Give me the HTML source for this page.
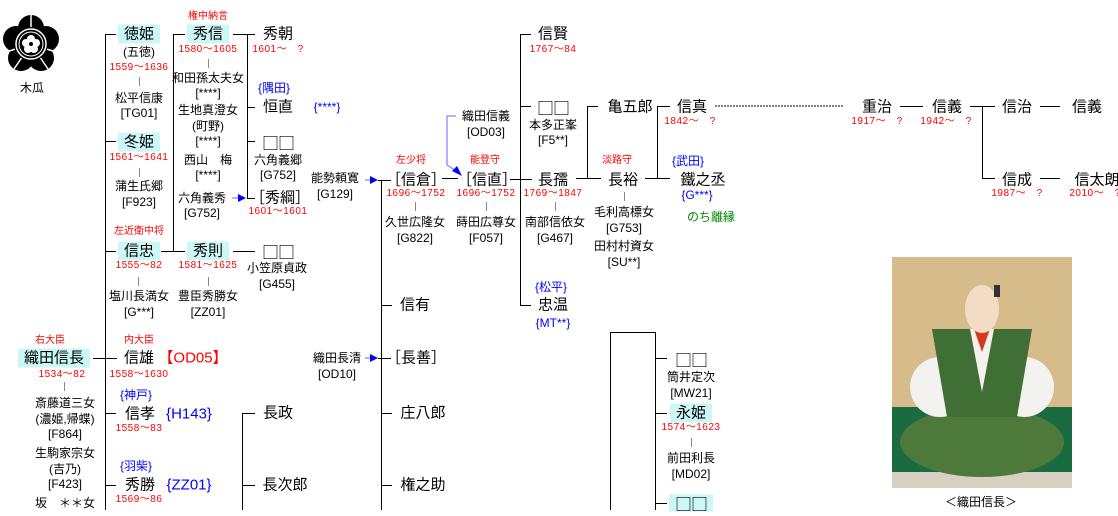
<!DOCTYPE html>
<html><head><meta charset="utf-8">
<style>
body{margin:0;width:1118px;height:510px;background:#fff;overflow:hidden;position:relative;font-family:"Liberation Sans","Noto Sans CJK JP",sans-serif;color:#000}
.t{position:absolute;transform:translate(-50%,-50%);white-space:nowrap;line-height:1}
.n{font-size:15px}
.s{font-size:12px}
.d{font-size:10px;color:#f00;letter-spacing:0.5px}
.r{font-size:10px;color:#f00}
.b{color:#00f}
.g{color:#080;font-size:12px}
.hl{background:#ccf7f7;padding:2px 6px}
.h{position:absolute;height:1px;background:#000}
.v{position:absolute;width:1px;background:#000}
.tk{position:absolute;width:1px;height:9px;background:#888}
.q{font-family:"Noto Sans CJK JP",sans-serif;font-size:17px;letter-spacing:-1px}
</style></head><body>
<svg style="position:absolute;left:0;top:0" width="1118" height="510">
 <g transform="translate(31,44)">
  <g fill="#000">
   <circle cx="0" cy="-16" r="13"/><circle cx="15" cy="-5" r="13"/><circle cx="10" cy="14" r="13"/><circle cx="-10" cy="14" r="13"/><circle cx="-15" cy="-5" r="13"/><circle r="18"/>
  </g>
  <g stroke="#fff" stroke-width="1.5">
   <line x1="0" y1="0" x2="0" y2="-30"/><line x1="0" y1="0" x2="28" y2="9"/><line x1="0" y1="0" x2="17" y2="25"/><line x1="0" y1="0" x2="-17" y2="25"/><line x1="0" y1="0" x2="-28" y2="9"/>
  </g>
  <circle r="17" fill="#000"/>
  <circle r="15" fill="none" stroke="#fff" stroke-width="1.5"/>
  <circle r="12" fill="none" stroke="#fff" stroke-width="1"/>
  <g fill="#fff"><circle cx="0" cy="-5" r="4"/><circle cx="5" cy="-1" r="4"/><circle cx="3" cy="5" r="4"/><circle cx="-3" cy="5" r="4"/><circle cx="-5" cy="-1" r="4"/></g>
  <circle r="2" fill="#000"/>
 </g>
 <path d="M456 116 H447 V165 L458 172" stroke="#66f" fill="none"/>
 <polygon points="462,176 452,171 457,166" fill="#00f"/>
 <line x1="232" y1="198" x2="240" y2="198" stroke="#66f"/><polygon points="246,198 238,194 238,202" fill="#00f"/>
 <line x1="365" y1="180" x2="372" y2="180" stroke="#66f"/><polygon points="378,180 370,176 370,184" fill="#00f"/>
 <line x1="365" y1="358" x2="372" y2="358" stroke="#66f"/><polygon points="378,358 370,354 370,362" fill="#00f"/>
 <line x1="715" y1="106" x2="843" y2="106" stroke="#000" stroke-dasharray="2,1"/>
 <g transform="translate(892,257)">
  <rect width="180" height="231" fill="#d6bc8a"/>
  <rect y="150" width="180" height="65" fill="#1b6b40"/>
  <rect y="215" width="180" height="16" fill="#d8d0c0"/>
  <ellipse cx="90" cy="185" rx="82" ry="35" fill="#4d7a3a"/>
  <ellipse cx="48" cy="130" rx="30" ry="30" fill="#f4f2ee"/>
  <ellipse cx="132" cy="130" rx="30" ry="30" fill="#f4f2ee"/>
  <polygon points="40,72 140,72 125,160 55,160" fill="#406f36"/>
  <polygon points="78,72 102,72 90,135" fill="#f4f2ee"/>
  <polygon points="82,72 98,72 90,95" fill="#d53a1f"/>
  <ellipse cx="90" cy="52" rx="17" ry="24" fill="#f3dcc4"/>
  <rect x="102" y="28" width="6" height="12" fill="#333"/>
 </g>
</svg>
<div class="t s" style="left:32px;top:88px">木瓜</div>

<div class="v" style="left:105px;top:34px;height:476px"></div>
<div class="h" style="left:105px;top:34px;width:11px"></div>
<div class="h" style="left:105px;top:141px;width:11px"></div>
<div class="h" style="left:105px;top:251px;width:11px"></div>
<div class="h" style="left:93px;top:358px;width:24px"></div>
<div class="h" style="left:105px;top:413px;width:11px"></div>
<div class="h" style="left:105px;top:485px;width:11px"></div>

<div class="t r" style="left:50px;top:341px">右大臣</div>
<div class="t n hl" style="left:54px;top:358px">織田信長</div>
<div class="t d" style="left:62px;top:375px">1534～82</div>
<div class="tk" style="left:64px;top:382px"></div>
<div class="t s" style="left:65px;top:403px">斎藤道三女</div>
<div class="t s" style="left:65px;top:419px">(濃姫,帰蝶)</div>
<div class="t s" style="left:65px;top:434px">[F864]</div>
<div class="t s" style="left:65px;top:453px">生駒家宗女</div>
<div class="t s" style="left:65px;top:469px">(吉乃)</div>
<div class="t s" style="left:65px;top:484px">[F423]</div>
<div class="t s" style="left:65px;top:503px">坂　＊＊女</div>

<div class="t n hl" style="left:139px;top:34px">徳姫</div>
<div class="t s" style="left:139px;top:52px">(五徳)</div>
<div class="t d" style="left:139px;top:68px">1559～1636</div>
<div class="tk" style="left:139px;top:77px"></div>
<div class="t s" style="left:139px;top:98px">松平信康</div>
<div class="t s" style="left:139px;top:113px">[TG01]</div>
<div class="t n hl" style="left:139px;top:142px">冬姫</div>
<div class="t d" style="left:139px;top:158px">1561～1641</div>
<div class="tk" style="left:139px;top:168px"></div>
<div class="t s" style="left:139px;top:186px">蒲生氏郷</div>
<div class="t s" style="left:139px;top:202px">[F923]</div>
<div class="t r" style="left:139px;top:232px">左近衛中将</div>
<div class="t n hl" style="left:139px;top:251px">信忠</div>
<div class="t d" style="left:139px;top:266px">1555～82</div>
<div class="tk" style="left:138px;top:277px"></div>
<div class="t s" style="left:139px;top:296px">塩川長満女</div>
<div class="t s" style="left:139px;top:312px">[G***]</div>
<div class="t r" style="left:139px;top:341px">内大臣</div>
<div class="t n" style="left:139px;top:358px">信雄</div>
<div class="t n" style="left:193px;top:358px;color:#f00">【OD05】</div>
<div class="t d" style="left:139px;top:375px">1558～1630</div>
<div class="t s b" style="left:136px;top:395px">{神戸}</div>
<div class="t n" style="left:140px;top:414px">信孝</div>
<div class="t n b" style="left:189px;top:414px">{H143}</div>
<div class="t d" style="left:139px;top:429px">1558～83</div>
<div class="t s b" style="left:136px;top:466px">{羽柴}</div>
<div class="t n" style="left:140px;top:485px">秀勝</div>
<div class="t n b" style="left:189px;top:485px">{ZZ01}</div>
<div class="t d" style="left:139px;top:500px">1569～86</div>

<div class="v" style="left:173px;top:34px;height:217px"></div>
<div class="h" style="left:173px;top:34px;width:12px"></div>
<div class="h" style="left:161px;top:251px;width:24px"></div>
<div class="t r" style="left:208px;top:17px">権中納言</div>
<div class="t n hl" style="left:208px;top:34px">秀信</div>
<div class="t d" style="left:208px;top:50px">1580～1605</div>
<div class="tk" style="left:208px;top:59px"></div>
<div class="t s" style="left:208px;top:78px">和田孫太夫女</div>
<div class="t s" style="left:208px;top:93px">[****]</div>
<div class="t s" style="left:208px;top:110px">生地真澄女</div>
<div class="t s" style="left:208px;top:126px">(町野)</div>
<div class="t s" style="left:208px;top:141px">[****]</div>
<div class="t s" style="left:208px;top:160px">西山　梅</div>
<div class="t s" style="left:208px;top:175px">[****]</div>
<div class="t s" style="left:202px;top:198px">六角義秀</div>
<div class="t s" style="left:202px;top:213px">[G752]</div>
<div class="t n hl" style="left:208px;top:251px">秀則</div>
<div class="t d" style="left:208px;top:266px">1581～1625</div>
<div class="tk" style="left:208px;top:277px"></div>
<div class="t s" style="left:208px;top:296px">豊臣秀勝女</div>
<div class="t s" style="left:208px;top:312px">[ZZ01]</div>

<div class="v" style="left:247px;top:34px;height:164px"></div>
<div class="h" style="left:233px;top:34px;width:22px"></div>
<div class="h" style="left:247px;top:107px;width:8px"></div>
<div class="h" style="left:247px;top:141px;width:8px"></div>
<div class="h" style="left:247px;top:198px;width:8px"></div>
<div class="h" style="left:233px;top:251px;width:22px"></div>
<div class="t n" style="left:278px;top:34px">秀朝</div>
<div class="t d" style="left:278px;top:50px">1601～　?</div>
<div class="t s b" style="left:274px;top:88px">{隅田}</div>
<div class="t n" style="left:278px;top:107px">恒直</div>
<div class="t s b" style="left:327px;top:107px">{****}</div>
<div class="t q" style="left:278px;top:142px">□□</div>
<div class="t s" style="left:278px;top:160px">六角義郷</div>
<div class="t s" style="left:278px;top:175px">[G752]</div>
<div class="t n" style="left:280px;top:198px">［秀綱］</div>
<div class="t d" style="left:278px;top:212px">1601～1601</div>
<div class="t q" style="left:278px;top:251px">□□</div>
<div class="t s" style="left:277px;top:268px">小笠原貞政</div>
<div class="t s" style="left:277px;top:284px">[G455]</div>
<div class="v" style="left:242px;top:413px;height:97px"></div>
<div class="h" style="left:242px;top:413px;width:13px"></div>
<div class="h" style="left:242px;top:485px;width:13px"></div>
<div class="t n" style="left:278px;top:413px">長政</div>
<div class="t n" style="left:285px;top:485px">長次郎</div>

<div class="t s" style="left:335px;top:178px">能勢頼寛</div>
<div class="t s" style="left:335px;top:194px">[G129]</div>
<div class="t s" style="left:337px;top:358px">織田長清</div>
<div class="t s" style="left:337px;top:374px">[OD10]</div>
<div class="v" style="left:381px;top:180px;height:330px"></div>
<div class="h" style="left:378px;top:180px;width:13px"></div>
<div class="h" style="left:381px;top:305px;width:11px"></div>
<div class="h" style="left:378px;top:358px;width:13px"></div>
<div class="h" style="left:381px;top:413px;width:11px"></div>
<div class="h" style="left:381px;top:485px;width:11px"></div>
<div class="t r" style="left:411px;top:161px">左少将</div>
<div class="t n" style="left:416px;top:180px">［信倉］</div>
<div class="t d" style="left:416px;top:194px">1696～1752</div>
<div class="tk" style="left:415px;top:202px"></div>
<div class="t s" style="left:415px;top:222px">久世広隆女</div>
<div class="t s" style="left:415px;top:238px">[G822]</div>
<div class="t n" style="left:415px;top:305px">信有</div>
<div class="t n" style="left:416px;top:358px">［長善］</div>
<div class="t n" style="left:423px;top:413px">庄八郎</div>
<div class="t n" style="left:423px;top:485px">権之助</div>

<div class="h" style="left:442px;top:178px;width:16px"></div>
<div class="t s" style="left:486px;top:116px">織田信義</div>
<div class="t s" style="left:486px;top:132px">[OD03]</div>
<div class="t r" style="left:485px;top:161px">能登守</div>
<div class="t n" style="left:487px;top:180px">［信直］</div>
<div class="t d" style="left:486px;top:194px">1696～1752</div>
<div class="tk" style="left:486px;top:202px"></div>
<div class="t s" style="left:486px;top:222px">蒔田広尊女</div>
<div class="t s" style="left:486px;top:238px">[F057]</div>

<div class="h" style="left:510px;top:179px;width:22px"></div>
<div class="v" style="left:520px;top:34px;height:271px"></div>
<div class="h" style="left:520px;top:34px;width:11px"></div>
<div class="h" style="left:520px;top:106px;width:11px"></div>
<div class="h" style="left:520px;top:305px;width:11px"></div>
<div class="t n" style="left:553px;top:34px">信賢</div>
<div class="t d" style="left:553px;top:50px">1767～84</div>
<div class="t q" style="left:553px;top:107px">□□</div>
<div class="t s" style="left:553px;top:125px">本多正峯</div>
<div class="t s" style="left:553px;top:140px">[F5**]</div>
<div class="t n" style="left:553px;top:180px">長孺</div>
<div class="t d" style="left:553px;top:194px">1769～1847</div>
<div class="tk" style="left:555px;top:202px"></div>
<div class="t s" style="left:555px;top:222px">南部信依女</div>
<div class="t s" style="left:555px;top:238px">[G467]</div>
<div class="t s b" style="left:551px;top:287px">{松平}</div>
<div class="t n" style="left:553px;top:305px">忠温</div>
<div class="t s b" style="left:553px;top:323px">{MT**}</div>

<div class="h" style="left:576px;top:178px;width:25px"></div>
<div class="v" style="left:587px;top:106px;height:72px"></div>
<div class="h" style="left:587px;top:106px;width:11px"></div>
<div class="t n" style="left:630px;top:107px">亀五郎</div>
<div class="t r" style="left:617px;top:161px">淡路守</div>
<div class="t n" style="left:623px;top:180px">長裕</div>
<div class="tk" style="left:624px;top:192px"></div>
<div class="t s" style="left:624px;top:212px">毛利高標女</div>
<div class="t s" style="left:624px;top:228px">[G753]</div>
<div class="t s" style="left:624px;top:246px">田村村資女</div>
<div class="t s" style="left:624px;top:262px">[SU**]</div>

<div class="h" style="left:645px;top:178px;width:25px"></div>
<div class="v" style="left:657px;top:106px;height:72px"></div>
<div class="h" style="left:657px;top:106px;width:13px"></div>
<div class="t n" style="left:692px;top:107px">信真</div>
<div class="t d" style="left:690px;top:122px">1842～　?</div>
<div class="t s b" style="left:688px;top:161px">{武田}</div>
<div class="t n" style="left:703px;top:180px">鐵之丞</div>
<div class="t s b" style="left:697px;top:195px">{G***}</div>
<div class="g t" style="left:711px;top:217px">のち離縁</div>

<div class="t n" style="left:877px;top:107px">重治</div>
<div class="t d" style="left:877px;top:122px">1917～　?</div>
<div class="h" style="left:900px;top:106px;width:23px"></div>
<div class="t n" style="left:947px;top:107px">信義</div>
<div class="t d" style="left:946px;top:122px">1942～　?</div>
<div class="h" style="left:970px;top:106px;width:25px"></div>
<div class="v" style="left:982px;top:106px;height:72px"></div>
<div class="h" style="left:982px;top:178px;width:13px"></div>
<div class="t n" style="left:1017px;top:107px">信治</div>
<div class="h" style="left:1040px;top:106px;width:20px"></div>
<div class="t n" style="left:1087px;top:107px">信義</div>
<div class="t n" style="left:1017px;top:180px">信成</div>
<div class="t d" style="left:1017px;top:194px">1987～　?</div>
<div class="h" style="left:1040px;top:178px;width:20px"></div>
<div class="t n" style="left:1097px;top:180px">信太朗</div>
<div class="t d" style="left:1095px;top:194px">2010～　?</div>

<div class="h" style="left:610px;top:332px;width:45px"></div>
<div class="v" style="left:610px;top:332px;height:178px"></div>
<div class="v" style="left:655px;top:332px;height:178px"></div>
<div class="h" style="left:655px;top:358px;width:12px"></div>
<div class="h" style="left:655px;top:413px;width:12px"></div>
<div class="h" style="left:655px;top:503px;width:12px"></div>
<div class="t q" style="left:691px;top:359px">□□</div>
<div class="t s" style="left:691px;top:377px">筒井定次</div>
<div class="t s" style="left:691px;top:393px">[MW21]</div>
<div class="t n hl" style="left:691px;top:413px">永姫</div>
<div class="t d" style="left:691px;top:428px">1574～1623</div>
<div class="tk" style="left:691px;top:438px"></div>
<div class="t s" style="left:691px;top:458px">前田利長</div>
<div class="t s" style="left:691px;top:474px">[MD02]</div>
<div class="t q hl" style="left:691px;top:503px;padding:0 6px">□□</div>

<div class="t s" style="left:981px;top:502px">＜織田信長＞</div>
</body></html>
